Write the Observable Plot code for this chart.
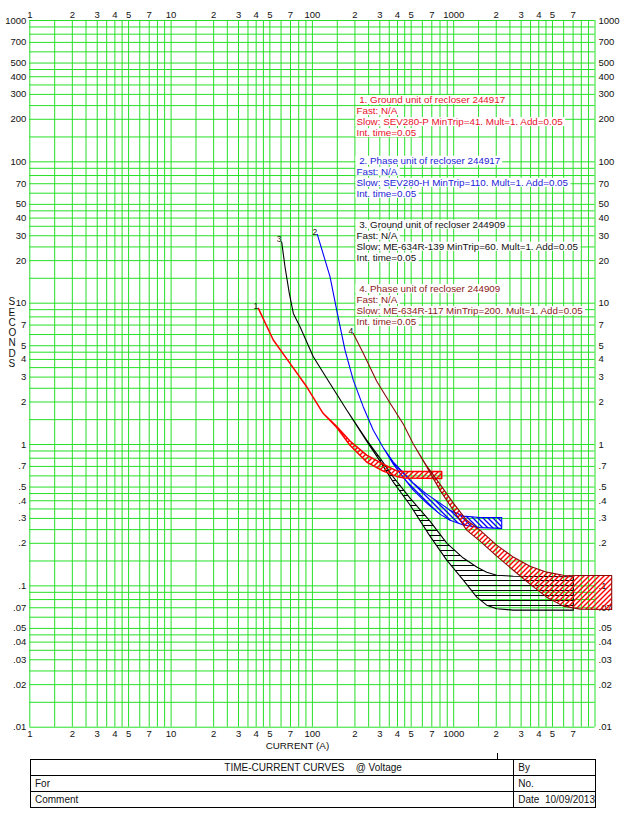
<!DOCTYPE html>
<html><head><meta charset="utf-8">
<script src="https://cdn.jsdelivr.net/npm/d3@7"></script>
<script src="https://cdn.jsdelivr.net/npm/@observablehq/plot@0.6"></script>
<style>
body{margin:0;background:#fff;font-family:"Liberation Sans",Arial,sans-serif;}
#wrap{position:relative;width:626px;height:814px;overflow:hidden;}
#wrap svg{position:absolute;left:0;top:0;}
table{position:absolute;left:30px;top:759px;width:566px;border-collapse:collapse;font-size:10px;color:#111;}
td{border:1px solid #000;height:15px;padding:0 0 0 4px;line-height:15px;white-space:pre;}
#tick{position:absolute;left:497px;top:753px;width:1px;height:6px;background:#000;}
</style></head><body><div id="wrap"></div>
<script>
// ---- axis ticks and labels ----
const xTickValues = [1,2,3,4,5,7,10,20,30,40,50,70,100,200,300,400,500,700,1000,2000,3000,4000,5000,7000];
const xTickLabels = ["1","2","3","4","5","7","10","2","3","4","5","7","100","2","3","4","5","7","1000","2","3","4","5","7"];
const yTickValues = [1000,700,500,400,300,200,100,70,50,40,30,20,10,7,5,4,3,2,1,0.7,0.5,0.4,0.3,0.2,0.1,0.07,0.05,0.04,0.03,0.02,0.01];
const yTickLabels = ["1000","700","500","400","300","200","100","70","50","40","30","20","10","7","5","4","3","2","1",".7",".5",".4",".3",".2",".1",".07",".05",".04",".03",".02",".01"];
const gridMantissas = [1,1.5,2,2.5,3,3.5,4,4.5,5,6,7,8,9];
const xDecades = [1,10,100,1000];
const yDecades = [0.01,0.1,1,10,100];

// ---- curve 1: Ground unit of recloser 244917 ----
const c1Current = [41.8, 53.3, 70, 91.9, 120, 150, 186, 244, 320, 398, 450, 829];
const c1TimeMax = [9.11, 5.44, 3.72, 2.54, 1.65, 1.33, 1.05, 0.834, 0.72, 0.645, 0.638, 0.638];
const c1TimeMin = [9.11, 5.44, 3.72, 2.54, 1.65, 1.31, 0.98, 0.745, 0.643, 0.59, 0.574, 0.571];
// ---- curve 2: Phase unit of recloser 244917 ----
const c2Current = [109.2, 134.3, 149.8, 171.5, 196.3, 231, 272, 320, 377, 420, 522, 649, 806, 949, 1179, 1548, 2204];
const c2TimeMax = [30.4, 15.3, 8.86, 4.62, 2.83, 1.83, 1.25, 0.94, 0.745, 0.664, 0.529, 0.442, 0.382, 0.340, 0.309, 0.302, 0.302];
const c2TimeMin = [30.4, 15.3, 8.86, 4.62, 2.83, 1.83, 1.25, 0.94, 0.72, 0.622, 0.472, 0.382, 0.319, 0.289, 0.267, 0.256, 0.253];
// ---- curve 3: Ground unit of recloser 244909 ----
const c3Current = [61.1, 64.5, 69.2, 73.9, 82.4, 102.3, 134.3, 176.3, 244.2, 303.4, 377, 495, 685, 900, 1179, 1467, 1726, 2032, 2663, 7079];
const c3TimeMax = [27.0, 17.95, 11.64, 8.40, 6.75, 4.14, 2.68, 1.74, 1.066, 0.794, 0.583, 0.414, 0.285, 0.199, 0.156, 0.135, 0.124, 0.118, 0.116, 0.115];
const c3TimeMin = [27.0, 17.95, 11.64, 8.40, 6.75, 4.14, 2.68, 1.74, 1.048, 0.757, 0.537, 0.370, 0.223, 0.151, 0.109, 0.0825, 0.0724, 0.0684, 0.0668, 0.0668];
// ---- curve 4: Phase unit of recloser 244909 ----
const c4Current = [196.3, 231, 287, 357, 444, 522, 649, 806, 1002, 1246, 1548, 2032, 2663, 3496, 4588, 6015, 7896, 13234];
const c4TimeMax = [6.06, 4.38, 2.79, 1.95, 1.38, 1.00, 0.70, 0.52, 0.382, 0.289, 0.246, 0.1925, 0.1585, 0.1367, 0.124, 0.118, 0.1173, 0.1173];
const c4TimeMin = [6.06, 4.38, 2.79, 1.95, 1.38, 1.00, 0.69, 0.472, 0.340, 0.246, 0.2055, 0.161, 0.128, 0.102, 0.0825, 0.0713, 0.0679, 0.0675];

// ---- legend texts ----
const curveNames = ["1","2","3","4"];
const legendLines = [
  ["\u00a01. Ground unit of recloser 244917", "Fast: N/A", "Slow: SEV280-P MinTrip=41. Mult=1. Add=0.05", "Int. time=0.05"],
  ["\u00a02. Phase unit of recloser 244917", "Fast: N/A", "Slow: SEV280-H MinTrip=110. Mult=1. Add=0.05", "Int. time=0.05"],
  ["\u00a03. Ground unit of recloser 244909", "Fast: N/A", "Slow: ME-634R-139 MinTrip=60. Mult=1. Add=0.05", "Int. time=0.05"],
  ["\u00a04. Phase unit of recloser 244909", "Fast: N/A", "Slow: ME-634R-117 MinTrip=200. Mult=1. Add=0.05", "Int. time=0.05"]
];
const legendCurrent = 205;
const legendTimes = [274, 102, 36, 12.6];
const tableRows = [["TIME-CURRENT CURVES    @ Voltage", "By"], ["For", "No."], ["Comment", "Date  10/09/2013"]];

// ---- styles ----
const gridColor = "#26e026";
const lineColors = ["#ff0000", "#0000ff", "#000000", "#8b0a0a"];
const hatchFills = ["url(#hatchRed)", "url(#hatchBlue)", "url(#hatchBlack)", "url(#hatchRed)"];
const textColors = ["#e8102c", "#1c1cd8", "#111111", "#8b1a1a"];

const xGrid = xDecades.flatMap(d => gridMantissas.map(m => m * d)).concat([10000]);
const yGrid = yDecades.flatMap(d => gridMantissas.map(m => m * d)).concat([1000]);
const xTicks = xTickValues.map((value, i) => ({value, label: xTickLabels[i]}));
const yTicks = yTickValues.map((value, i) => ({value, label: yTickLabels[i]}));

const curves = [
  [c1Current, c1TimeMax, c1TimeMin],
  [c2Current, c2TimeMax, c2TimeMin],
  [c3Current, c3TimeMax, c3TimeMin],
  [c4Current, c4TimeMax, c4TimeMin]
].map(([I, hi, lo], k) => I.map((c, i) => ({curve: k, I: c, hi: hi[i], lo: lo[i]})));
const starts = curves.map((rows, k) => ({I: rows[0].I, t: rows[0].hi, name: curveNames[k]}));
const legendBlocks = legendLines.map((lines, k) => ({I: legendCurrent, t: legendTimes[k], lines, k}));

const bandMarks = [2, 1, 0, 3].map(k => Plot.areaY(curves[k], {
  x: "I", y1: "lo", y2: "hi", fill: hatchFills[k], stroke: lineColors[k],
  strokeWidth: k === 0 ? 1.5 : 1.1, curve: "linear"
}));
const legendMarks = [0, 1, 2, 3].map(line => Plot.text(legendBlocks, {
  x: "I", y: "t", text: d => d.lines[line], fill: d => textColors[d.k],
  textAnchor: "start", dy: line * 11, fontSize: 9.8, ariaDescription: "legendbox"
}));

const chart = Plot.plot({
  width: 626, height: 752,
  marginLeft: 29.3, marginRight: 31.5, marginTop: 20, marginBottom: 25.3,
  style: {fontFamily: "'Liberation Sans', Arial, sans-serif", fontSize: "9.5px", background: "white", color: "#111", overflow: "visible"},
  x: {type: "log", domain: [1, 10000], axis: null},
  y: {type: "log", domain: [0.01, 1000], axis: null},
  marks: [
    Plot.ruleX(xGrid, {stroke: gridColor, strokeWidth: 1}),
    Plot.ruleY(yGrid, {stroke: gridColor, strokeWidth: 1}),
    Plot.text(xTicks, {x: "value", text: "label", frameAnchor: "top", lineAnchor: "bottom", dy: -3, fill: "#111"}),
    Plot.text(xTicks, {x: "value", text: "label", frameAnchor: "bottom", lineAnchor: "top", dy: 3, fill: "#111"}),
    Plot.text(yTicks, {y: "value", text: "label", frameAnchor: "left", textAnchor: "end", dx: -3.5, fill: "#111"}),
    Plot.text(yTicks, {y: "value", text: "label", frameAnchor: "right", textAnchor: "start", dx: 3.5, fill: "#111"}),
    ...bandMarks,
    Plot.text(starts, {x: "I", y: "t", text: "name", dx: -3, dy: -3, fontSize: 8.5, fill: "#111"}),
    ...legendMarks,
    Plot.text(["SECONDS"], {text: d => d.split("").join("\n"), frameAnchor: "left", dx: -21.3, dy: -41, lineHeight: 1.03, fontSize: 10, fill: "#111"}),
    Plot.text(["CURRENT (A)"], {text: d => d, frameAnchor: "bottom", lineAnchor: "top", dx: -15, dy: 14.5, fontSize: 9.8, fill: "#111"})
  ]
});

const wrap = document.getElementById("wrap");
wrap.appendChild(chart);
const svg = chart.tagName.toLowerCase() === "svg" ? chart : chart.querySelector("svg");
const ns = "http://www.w3.org/2000/svg";
const defs = document.createElementNS(ns, "defs");
defs.innerHTML =
  '<pattern id="hatchRed" patternUnits="userSpaceOnUse" width="5" height="5"><path d="M0,5L5,0M-1,1L1,-1M4,6L6,4" stroke="#ff0000" stroke-width="1.4"/></pattern>' +
  '<pattern id="hatchBlue" patternUnits="userSpaceOnUse" width="5" height="5"><path d="M0,0L5,5M-1,4L1,6M4,-1L6,1" stroke="#0000ff" stroke-width="1.3"/></pattern>' +
  '<pattern id="hatchBlack" patternUnits="userSpaceOnUse" width="5" height="5"><path d="M0,0.5H5" stroke="#000" stroke-width="1"/></pattern>';
svg.insertBefore(defs, svg.firstChild);

const groups = svg.querySelectorAll('g[aria-description="legendbox"]');
if (groups.length) {
  const boxLayer = document.createElementNS(ns, "g");
  groups[0].parentNode.insertBefore(boxLayer, groups[0]);
  groups.forEach(g => {
    const gt = g.getAttribute("transform") || "";
    g.querySelectorAll("text").forEach(t => {
      const b = t.getBBox();
      const r = document.createElementNS(ns, "rect");
      r.setAttribute("x", b.x - 1);
      r.setAttribute("y", b.y + 1);
      r.setAttribute("width", b.width + 3);
      r.setAttribute("height", Math.max(0, b.height - 2));
      r.setAttribute("fill", "white");
      r.setAttribute("transform", gt + " " + (t.getAttribute("transform") || ""));
      boxLayer.appendChild(r);
    });
  });
}

const table = document.createElement("table");
tableRows.forEach((row, i) => {
  const tr = document.createElement("tr");
  row.forEach((cell, j) => {
    const td = document.createElement("td");
    td.textContent = cell;
    if (j === 0) td.style.width = "462px";
    if (i === 0 && j === 0) { td.style.textAlign = "center"; td.style.paddingLeft = "82px"; }
    tr.appendChild(td);
  });
  table.appendChild(tr);
});
wrap.appendChild(table);
const tick = document.createElement("div");
tick.id = "tick";
wrap.appendChild(tick);
</script></body></html>
